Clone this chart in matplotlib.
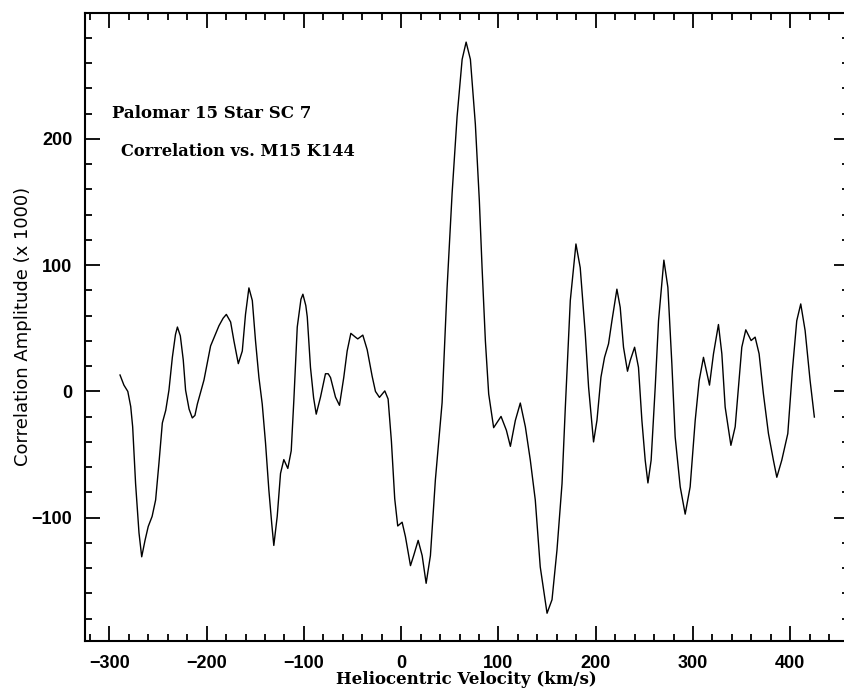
import matplotlib
matplotlib.use("Agg")
import matplotlib.pyplot as plt
from matplotlib.ticker import MultipleLocator

# cross-correlation trace
velocity = [
    -289, -285, -281, -278, -276, -273, -269.5, -266.7, -263.3, -260, -256,
    -252.4, -249, -245.5, -242, -238.7, -235.2, -232, -230, -227, -224,
    -221.6, -218, -214.7, -212, -209.5, -202.7, -195.9, -187.3, -183, -179.7,
    -175.3, -171.9, -167.4, -163.3, -160, -156.5, -153, -149.7, -146.2,
    -142.8, -139.4, -136, -133, -130.9, -127.4, -124, -120.6, -116.5, -113,
    -110.3, -106.8, -103, -101, -98, -96.5, -93.2, -90, -87.3, -82.9, -77.8,
    -75, -72.6, -67.5, -63.4, -59, -55.5, -51.7, -47, -44.6, -39.4, -34.9,
    -29.8, -26.4, -22.3, -16.8, -13.4, -10, -6.6, -3.5, 1, 4.4, 9.6, 12.9,
    17.5, 21.6, 25.7, 30.1, 35.2, 42.1, 47.2, 52.4, 57.5, 62.7, 66.8, 71.2,
    76.3, 80.4, 83.2, 86.6, 90, 95.1, 102.7, 108.2, 112.3, 117.4, 122.5,
    127.7, 132.8, 137.9, 143, 150, 155.1, 160.2, 165.4, 168.8, 173.9, 179.7,
    184.1, 189.3, 192.7, 197.8, 201.3, 205.4, 209.1, 213.2, 216.7, 221.8,
    225.2, 228.6, 232.7, 235.5, 240, 244, 247.5, 250.9, 253.7, 257, 261.2,
    264.6, 270.1, 274.2, 278.3, 281.7, 286.9, 292, 297.1, 302.3, 306.4,
    310.8, 317, 321.1, 326.2, 329.7, 333.1, 339, 343.4, 346.8, 350.2, 354.3,
    359.8, 363.9, 368, 372.4, 377.6, 382.7, 386.2, 391.3, 397.5, 402.2,
    406.7, 410.8, 415.3, 420.4, 424.8,
]
amplitude = [
    13, 5, 0, -12, -28, -73, -112, -131, -118, -107, -99,
    -86, -57, -25, -15, 1, 27, 45, 51, 44, 25,
    1, -14, -21, -19, -10, 9, 36, 52, 58, 61,
    55, 40, 22, 32, 61, 82, 72, 40, 11,
    -10, -41, -78, -105, -122, -99, -65, -54, -61, -47,
    -7, 51, 73, 77, 68, 59, 19, -5, -18, -4.5, 14,
    14, 11, -4.5, -11, 11, 32, 46, 43, 41.6, 44.6, 33,
    12, 0, -4.7, 0.4, -6, -39.5, -85, -106.6, -103.6, -115, -138, -130,
    -118, -130, -152, -130, -70, -9, 81.5, 157, 217.6, 263, 276.7, 263,
    211.6, 151, 98, 40, -2, -28.7, -19.8, -30.8, -43.5, -23, -9.2,
    -28, -54.5, -86, -139, -175.7, -165, -125.7, -73, -12.4, 72, 116.8,
    98, 45.6, 3.4, -40, -23, 11.3, 27, 37.7, 56, 81,
    66.6, 35, 16, 24.5, 35, 19, -23, -54.5, -72.5, -54.5, 3.4,
    56, 104, 82.5, 22, -36, -75.6, -97.2, -75.6, -23, 8.7,
    27, 5, 29.8, 53, 29.8, -12.4, -42.7, -28, 3.4, 35, 48.8,
    40.3, 43, 29.8, -1.8, -33.4, -54.5, -68, -54.5, -33.4, 16.6,
    56, 69.3, 48.2, 8.7, -20.3,
]

y_ticks = [-100, 0, 100, 200, 300]
y_ticklabels = ["\u2212100", "0", "100", "200", ""]
title_lines = ["Palomar 15 Star SC 7", "Correlation vs. M15 K144"]

fig = plt.figure(figsize=(8.45, 6.9), dpi=100)
# right spine sits just past the edge of the scanned figure
ax = fig.add_axes([85 / 845, 49 / 690, 763.6 / 845, 628.3 / 690])

ax.plot(velocity, amplitude, color="black", lw=1.0)

ax.set_xlim(-325, 460)
ax.set_ylim(-197.7, 300)
ax.xaxis.set_major_locator(MultipleLocator(100))
ax.xaxis.set_minor_locator(MultipleLocator(20))
ax.set_yticks(y_ticks, labels=y_ticklabels)
ax.yaxis.set_minor_locator(MultipleLocator(20))
ax.tick_params(which="both", direction="in", top=True, right=True,
               width=1.3, color="black")
ax.tick_params(which="major", length=11)
ax.tick_params(which="minor", length=5)
ax.tick_params(axis="x", which="major", pad=10)
ax.tick_params(axis="y", which="major", pad=9)
for spine in ax.spines.values():
    spine.set_linewidth(1.5)

for lab in ax.get_xticklabels() + ax.get_yticklabels():
    lab.set_fontfamily("Liberation Sans")
    lab.set_fontweight("bold")
    lab.set_fontsize(13)

ax.set_xlabel("Heliocentric Velocity (km/s)", family="DejaVu Serif",
              weight="bold", fontsize=12, labelpad=-1)
ax.set_ylabel("Correlation Amplitude (x 1000)", family="DejaVu Sans",
              fontsize=13, labelpad=0)

ax.text(0.035, 0.8395, title_lines[0], transform=ax.transAxes,
        family="DejaVu Serif", weight="bold", fontsize=12, va="center")
ax.text(0.047, 0.7795, title_lines[1], transform=ax.transAxes,
        family="DejaVu Serif", weight="bold", fontsize=11.7, va="center")

fig.savefig("out.png", dpi=100)
